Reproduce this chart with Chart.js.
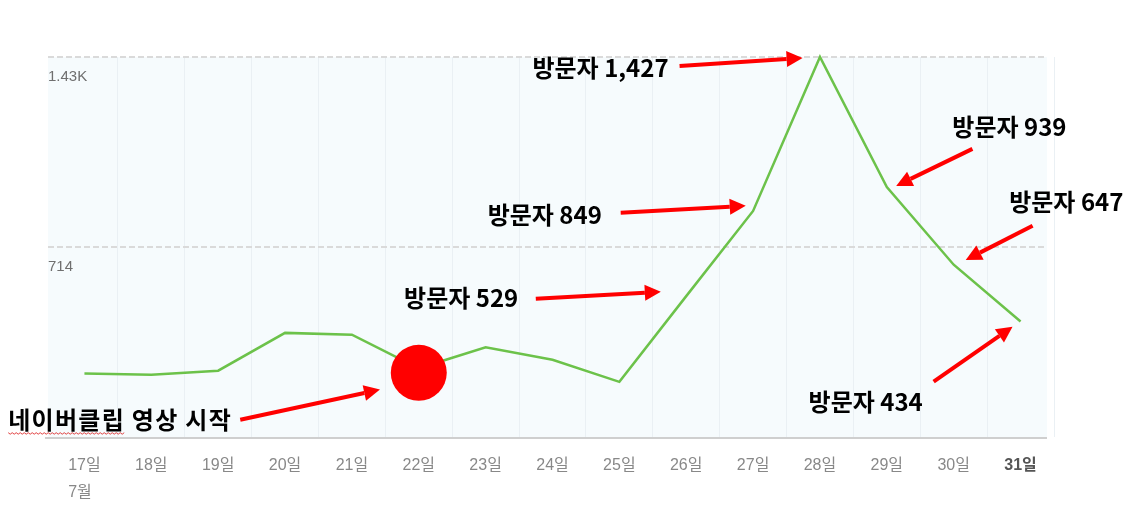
<!DOCTYPE html>
<html>
<head>
<meta charset="utf-8">
<script src="https://cdn.jsdelivr.net/npm/chart.js@4/dist/chart.umd.min.js"></script>
<style>
  html, body { margin: 0; padding: 0; background: #ffffff; }
  #wrap { width: 1131px; height: 510px; position: relative; }
</style>
</head>
<body>
<div id="wrap"><canvas id="c"></canvas></div>
<script>
// ---- data ----
const categories = ['17일','18일','19일','20일','21일','22일','23일','24일','25일','26일','27일','28일','29일','30일','31일'];
const visitors   = [238, 234, 249, 391, 384, 258, 337, 290, 207, 529, 849, 1427, 939, 647, 434];
const markerValues = [null, null, null, null, null, 241, null, null, null, null, null, null, null, null, null];
const yTickValues = [0, 714, 1427];
const yTickLabels = ['', '714', '1.43K'];
const monthLabel = '7월';

// annotations (x as category index, y as value)
const annoTexts = ['네이버클립 영상 시작','방문자 529','방문자 849','방문자 1,427','방문자 939','방문자 647','방문자 434'];
const annoTextAt = [[-1.14,65],[4.78,523],[6.03,835],[6.70,1386],[12.98,1164],[13.83,883],[10.83,132]];
const arrowFrom  = [[2.33,65],[6.75,519],[8.02,842],[8.90,1393],[13.28,1082],[14.18,793],[12.70,208]];
const arrowTo    = [[4.42,178],[8.62,545],[9.89,868],[10.74,1423],[12.14,943],[13.18,665],[13.88,414]];

const AXIS_FONT = "'Liberation Sans', 'Noto Sans CJK KR', sans-serif";
const ANNO_FONT = "bold 24px 'Noto Sans CJK KR', sans-serif";
const PLOT_LEFT = 48, PLOT_RIGHT = 1047;

const decorPlugin = {
  id: 'decor',
  beforeDraw(chart) {
    const {ctx, chartArea} = chart;
    ctx.save();
    ctx.fillStyle = '#f6fbfd';
    ctx.fillRect(PLOT_LEFT, chartArea.top, PLOT_RIGHT - PLOT_LEFT, chartArea.bottom - chartArea.top);
    ctx.restore();
  },
  beforeDatasetsDraw(chart) {
    const {ctx, scales} = chart;
    const y = scales.y;
    ctx.save();
    ctx.strokeStyle = '#dadada';
    ctx.lineWidth = 2;
    ctx.setLineDash([6, 3]);
    yTickValues.forEach(v => {
      if (v === 0) return;
      const py = Math.round(y.getPixelForValue(v));
      ctx.beginPath();
      ctx.moveTo(PLOT_LEFT, py);
      ctx.lineTo(PLOT_RIGHT, py);
      ctx.stroke();
    });
    ctx.setLineDash([]);
    ctx.strokeStyle = '#cfcfcf';
    ctx.lineWidth = 2;
    const by = y.getPixelForValue(0) + 1;
    ctx.beginPath();
    ctx.moveTo(45, by);
    ctx.lineTo(PLOT_RIGHT, by);
    ctx.stroke();
    ctx.restore();
  },
  afterDraw(chart) {
    const {ctx, scales} = chart;
    const x = scales.x, y = scales.y;
    ctx.save();
    // month label under first tick
    ctx.font = "16px " + AXIS_FONT;
    const w = ctx.measureText(categories[0]).width;
    ctx.fillStyle = '#888888';
    ctx.textAlign = 'left';
    ctx.textBaseline = 'middle';
    ctx.fillText(monthLabel, x.getPixelForValue(0) - w / 2, 493);

    // arrows
    ctx.strokeStyle = '#ff0000';
    ctx.fillStyle = '#ff0000';
    ctx.lineWidth = 4;
    ctx.lineCap = 'butt';
    for (let i = 0; i < arrowFrom.length; i++) {
      const x1 = x.getPixelForValue(arrowFrom[i][0]), y1 = y.getPixelForValue(arrowFrom[i][1]);
      const x2 = x.getPixelForValue(arrowTo[i][0]),   y2 = y.getPixelForValue(arrowTo[i][1]);
      const ang = Math.atan2(y2 - y1, x2 - x1);
      const hl = 16, hw = 8;
      const bx = x2 - hl * Math.cos(ang), byy = y2 - hl * Math.sin(ang);
      ctx.beginPath();
      ctx.moveTo(x1, y1);
      ctx.lineTo(bx, byy);
      ctx.stroke();
      ctx.beginPath();
      ctx.moveTo(x2, y2);
      ctx.lineTo(bx + hw * Math.sin(ang), byy - hw * Math.cos(ang));
      ctx.lineTo(bx - hw * Math.sin(ang), byy + hw * Math.cos(ang));
      ctx.closePath();
      ctx.fill();
    }

    // annotation texts
    ctx.font = ANNO_FONT;
    ctx.fillStyle = '#000000';
    ctx.textAlign = 'left';
    ctx.textBaseline = 'middle';
    for (let i = 0; i < annoTexts.length; i++) {
      const tx = x.getPixelForValue(annoTextAt[i][0]);
      const ty = y.getPixelForValue(annoTextAt[i][1]);
      ctx.letterSpacing = i === 0 ? '1.3px' : '0px';
      ctx.fillText(annoTexts[i], tx, ty);
      if (i === 0) {
        // spell-check wavy underline under the first word
        const ww = ctx.measureText(annoTexts[0].split(' ')[0]).width;
        ctx.save();
        ctx.strokeStyle = '#e04040';
        ctx.lineWidth = 1;
        ctx.beginPath();
        const uy = ty + 13;
        for (let k = 0; k <= ww; k += 2) {
          const yy = uy + ((k / 2) % 2 === 0 ? 0 : 1.5);
          if (k === 0) ctx.moveTo(tx + k, yy); else ctx.lineTo(tx + k, yy);
        }
        ctx.stroke();
        ctx.restore();
      }
    }
    ctx.letterSpacing = '0px';
    ctx.restore();
  }
};

new Chart(document.getElementById('c'), {
  type: 'line',
  data: {
    labels: categories,
    datasets: [
      {
        label: 'marker',
        data: markerValues,
        showLine: false,
        pointRadius: 28,
        pointHoverRadius: 28,
        pointBackgroundColor: '#ff0000',
        pointBorderWidth: 0,
        borderColor: '#ff0000',
        order: 0,
        clip: false
      },
      {
        label: '방문자',
        data: visitors,
        borderColor: '#6cc24a',
        borderWidth: 2.5,
        pointRadius: 0,
        tension: 0,
        fill: false,
        order: 1,
        clip: false
      }
    ]
  },
  options: {
    responsive: true,
    maintainAspectRatio: false,
    animation: false,
    events: [],
    layout: { padding: { top: 57, right: 77, left: 0, bottom: 0 } },
    plugins: { legend: { display: false }, tooltip: { enabled: false } },
    scales: {
      x: {
        type: 'category',
        offset: true,
        afterFit: s => { s.height = 73; },
        border: { display: false },
        grid: {
          offset: true,
          drawTicks: false,
          lineWidth: 1,
          color: ctx => (ctx.index === 0 || ctx.index === categories.length) ? 'rgba(0,0,0,0)' : '#eaf0f4'
        },
        ticks: {
          autoSkip: false,
          maxRotation: 0,
          padding: 19,
          color: ctx => ctx.index === categories.length - 1 ? '#555555' : '#888888',
          font: ctx => ({ family: AXIS_FONT, size: 16, weight: ctx.index === categories.length - 1 ? 'bold' : 'normal' })
        }
      },
      y: {
        min: 0,
        max: 1427,
        afterFit: s => { s.width = 51; },
        afterBuildTicks: s => { s.ticks = yTickValues.map(v => ({ value: v })); },
        border: { display: false },
        grid: { display: false, drawTicks: false },
        ticks: {
          mirror: true,
          padding: -3,
          labelOffset: 20,
          color: '#6f6f6f',
          font: { family: AXIS_FONT, size: 15 },
          callback: (v, i) => yTickLabels[yTickValues.indexOf(v)] ?? ''
        }
      }
    }
  },
  plugins: [decorPlugin]
});
</script>
</body>
</html>
